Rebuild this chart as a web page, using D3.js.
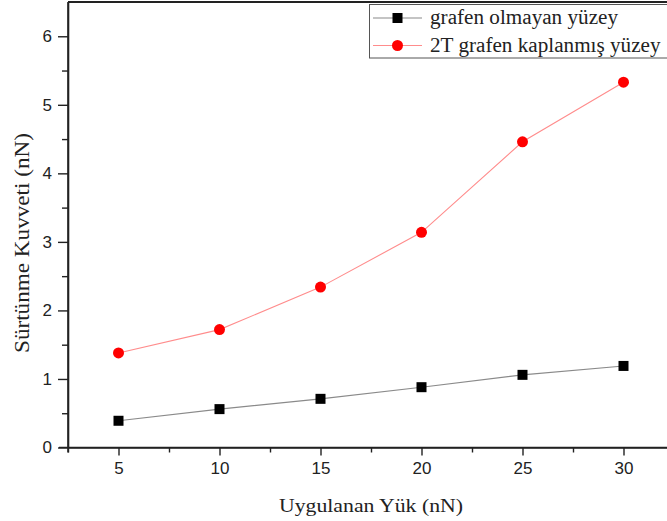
<!DOCTYPE html>
<html>
<head>
<meta charset="utf-8">
<script src="https://cdn.jsdelivr.net/npm/d3@7/dist/d3.min.js"></script>
<style>
  html, body { margin: 0; padding: 0; background: #fff; }
  svg { display: block; }
</style>
</head>
<body>
<svg id="chart" width="667" height="521"></svg>
<script>
// Applied load (nN)
const loads = [5, 10, 15, 20, 25, 30];
// Friction force (nN), uncoated surface
const uncoated = [0.39, 0.56, 0.71, 0.88, 1.06, 1.19];
// Friction force (nN), 2-layer graphene coated surface
const coated = [1.38, 1.72, 2.34, 3.14, 4.46, 5.33];

const seriesNames = ["grafen olmayan yüzey", "2T grafen kaplanmış yüzey"];
const xTicks = [5, 10, 15, 20, 25, 30];
const yTicks = [0, 1, 2, 3, 4, 5, 6];
const xTitle = "Uygulanan Yük (nN)";
const yTitle = "Sürtünme Kuvveti (nN)";

const svg = d3.select("#chart");
const plotL = 68, plotR = 674, plotT = 2, plotB = 447.5;

const x = d3.scaleLinear().domain([2.5, 32.5]).range([plotL, plotR]);
const y = d3.scaleLinear().domain([0, 6.5]).range([plotB, plotT]);

const axisColor = "#222";
const tickFont = "'Liberation Sans', Arial, sans-serif";
const serif = "'Liberation Serif', 'Times New Roman', serif";

// widen serif text a little (the titles use a broad Times face)
function widen(sel, factor) {
  sel.each(function () {
    const len = this.getComputedTextLength();
    d3.select(this).attr("textLength", len * factor).attr("lengthAdjust", "spacingAndGlyphs");
  });
}

// frame (top edge)
svg.append("line")
  .attr("x1", plotL).attr("x2", plotR).attr("y1", plotT).attr("y2", plotT)
  .attr("stroke", axisColor).attr("stroke-width", 2);

// minor tick positions
const xMinor = d3.range(2.5, 33, 5);
const yMinor = d3.range(0.5, 6.5, 1);

const gx = svg.append("g").attr("transform", `translate(0,${plotB})`);
gx.call(d3.axisBottom(x).tickValues(xTicks).tickSize(8).tickSizeOuter(0).tickPadding(6).tickFormat(d3.format("d")));
const gxm = svg.append("g").attr("transform", `translate(0,${plotB})`);
gxm.call(d3.axisBottom(x).tickValues(xMinor).tickSize(5).tickSizeOuter(0).tickFormat(""));

const gy = svg.append("g").attr("transform", `translate(${plotL},0)`);
gy.call(d3.axisLeft(y).tickValues(yTicks).tickSize(10).tickSizeOuter(0).tickPadding(6).tickFormat(d3.format("d")));
const gym = svg.append("g").attr("transform", `translate(${plotL},0)`);
gym.call(d3.axisLeft(y).tickValues(yMinor).tickSize(6).tickSizeOuter(0).tickFormat(""));

[gx, gxm, gy, gym].forEach(g => {
  g.selectAll(".domain").attr("stroke", axisColor).attr("stroke-width", 1.6);
  g.selectAll(".tick line").attr("stroke", axisColor).attr("stroke-width", 1.4);
  g.selectAll(".tick text").attr("fill", "#222")
    .style("font-family", tickFont).style("font-size", "17px");
});
gx.selectAll(".domain").attr("d", `M${plotL - 9},0H${plotR}`);
gy.selectAll(".domain").attr("d", `M0,${plotT}V${plotB + 5}`);

// series
const line = d3.line().x(d => x(d[0])).y(d => y(d[1]));
const dataA = loads.map((d, i) => [d, uncoated[i]]);
const dataB = loads.map((d, i) => [d, coated[i]]);

svg.append("path").datum(dataA).attr("d", line)
  .attr("fill", "none").attr("stroke", "#8a8a8a").attr("stroke-width", 1.1);
svg.append("path").datum(dataB).attr("d", line)
  .attr("fill", "none").attr("stroke", "#ff8c8c").attr("stroke-width", 1.1);

const sq = 10;
svg.append("g").selectAll("rect").data(dataA).join("rect")
  .attr("x", d => x(d[0]) - sq / 2).attr("y", d => y(d[1]) - sq / 2)
  .attr("width", sq).attr("height", sq).attr("fill", "#000");
svg.append("g").selectAll("circle").data(dataB).join("circle")
  .attr("cx", d => x(d[0])).attr("cy", d => y(d[1])).attr("r", 5.5)
  .attr("fill", "#ff0000");

// axis titles
const xt = svg.append("text")
  .attr("x", 371).attr("y", 511.5)
  .attr("text-anchor", "middle")
  .style("font-family", serif).style("font-size", "19.5px").attr("fill", "#222")
  .text(xTitle);
widen(xt, 184 / xt.node().getComputedTextLength());

const yt = svg.append("text")
  .attr("transform", `translate(29,243) rotate(-90)`)
  .attr("text-anchor", "middle")
  .style("font-family", serif).style("font-size", "21px").attr("fill", "#222")
  .text(yTitle);
widen(yt, 220 / yt.node().getComputedTextLength());

// legend
const lg = svg.append("g");
lg.append("rect").attr("x", 369.5).attr("y", 4.5).attr("width", 320).attr("height", 53.5)
  .attr("fill", "#fff").attr("stroke", "#555").attr("stroke-width", 1);
const rows = [
  { name: seriesNames[0], yy: 18, stroke: "#8a8a8a", mark: "sq" },
  { name: seriesNames[1], yy: 45.5, stroke: "#ff8c8c", mark: "ci" }
];
rows.forEach(r => {
  lg.append("line").attr("x1", 373).attr("x2", 422).attr("y1", r.yy).attr("y2", r.yy)
    .attr("stroke", r.stroke).attr("stroke-width", 1.1);
  if (r.mark === "sq") {
    lg.append("rect").attr("x", 397.5 - 5).attr("y", r.yy - 5).attr("width", 10).attr("height", 10).attr("fill", "#000");
  } else {
    lg.append("circle").attr("cx", 397.5).attr("cy", r.yy).attr("r", 5.5).attr("fill", "#ff0000");
  }
  const t = lg.append("text").attr("x", 430).attr("y", r.yy + 6)
    .style("font-family", serif).style("font-size", "20px").attr("fill", "#222")
    .text(r.name);
  widen(t, 1.058);
});
</script>
</body>
</html>
